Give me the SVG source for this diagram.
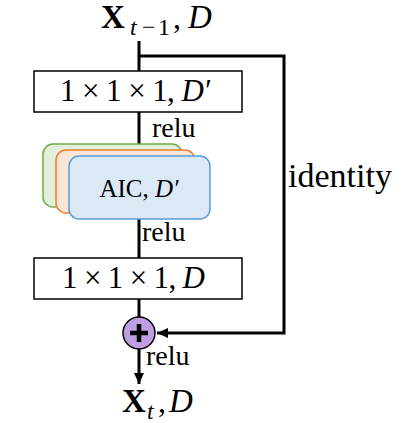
<svg xmlns="http://www.w3.org/2000/svg" width="415" height="423" viewBox="0 0 415 423">
<style>
.conn{fill:none;stroke:#000;stroke-width:3}
.box{fill:#fff;stroke:#000;stroke-width:1.5}
.t{font-family:"Liberation Serif","DejaVu Serif",serif;fill:#000}
.lbl{font-size:28px}
.math{font-size:31px}
.it{font-style:italic}
.bf{font-weight:bold}
</style>
<defs>
<marker id="ah" markerUnits="userSpaceOnUse" markerWidth="12" markerHeight="12" viewBox="0 0 12 12" refX="11" refY="6" orient="auto">
<path d="M0,1 L11,6 L0,11 Z" fill="#000"/>
</marker>
</defs>
<g id="connectors">
<line class="conn" x1="139" y1="41" x2="139" y2="71"/>
<polyline class="conn" points="139,56 284,56 284,333 157,333" marker-end="url(#ah)"/>
<line class="conn" x1="139" y1="112" x2="139" y2="156" marker-end="url(#ah)"/>
<line class="conn" x1="139" y1="219" x2="139" y2="258"/>
<line class="conn" x1="139" y1="299" x2="139" y2="317"/>
<line class="conn" x1="139" y1="349" x2="139" y2="384" marker-end="url(#ah)"/>
<text class="t lbl" x="152" y="137">relu</text>
<text class="t lbl" x="142" y="241">relu</text>
<text class="t lbl" x="146" y="365">relu</text>
<text class="t" x="288" y="187" font-size="34">identity</text>
</g>
<g id="input">
<text class="t bf" x="101" y="28" font-size="33">X</text>
<text class="t it" x="130" y="35" font-size="24">t</text>
<text class="t" x="142" y="35" font-size="24">−</text>
<text class="t" x="158" y="35" font-size="24">1</text>
<text class="t" x="173" y="28" font-size="32">,</text>
<text class="t it" x="188" y="28" font-size="33">D</text>
</g>
<g id="conv1">
<rect class="box" x="34" y="71" width="208" height="41"/>
<text class="t math" x="60" y="101" textLength="150" lengthAdjust="spacing">1 × 1 × 1, <tspan class="it">D′</tspan></text>
</g>
<g id="aic">
<rect x="43" y="144" width="139" height="63" rx="10" fill="#e2efda" stroke="#70ad47" stroke-width="1.5"/>
<rect x="56" y="150" width="139" height="63" rx="10" fill="#fbe5d6" stroke="#ed7d31" stroke-width="1.5"/>
<rect x="69" y="156" width="141" height="63" rx="10" fill="#dbe8f6" stroke="#5b9bd5" stroke-width="1.5"/>
<text class="t" x="139" y="197" font-size="25" text-anchor="middle">AIC, <tspan class="it">D′</tspan></text>
</g>
<g id="conv2">
<rect class="box" x="34" y="258" width="208" height="41"/>
<text class="t math" x="62" y="288" textLength="143" lengthAdjust="spacing">1 × 1 × 1, <tspan class="it">D</tspan></text>
</g>
<g id="add">
<circle cx="139" cy="333" r="16" fill="#bf9fe3" stroke="#000" stroke-width="1.5"/>
<path d="M130,333 H148 M139,324 V342" stroke="#000" stroke-width="4.5" fill="none"/>
</g>
<g id="output">
<text class="t bf" x="122" y="412" font-size="33">X</text>
<text class="t it" x="147" y="419" font-size="24">t</text>
<text class="t" x="158" y="412" font-size="32">,</text>
<text class="t it" x="169" y="412" font-size="33">D</text>
</g>
</svg>
